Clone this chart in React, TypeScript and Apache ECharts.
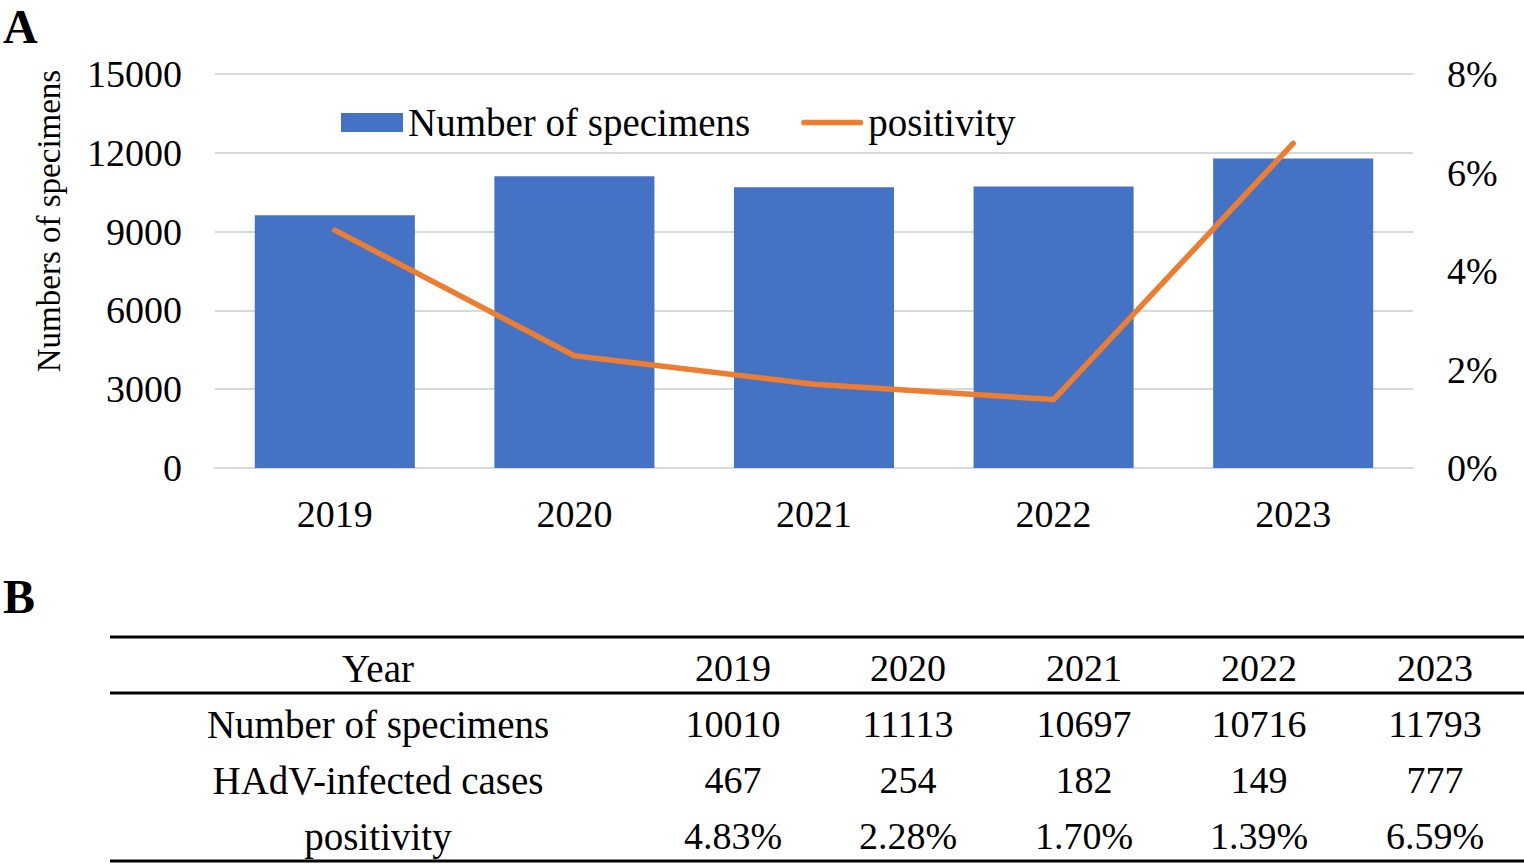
import React, { useEffect, useRef } from "react";
import * as echarts from "echarts";

const years = ["2019", "2020", "2021", "2022", "2023"];
const specimenBars = [9620, 11110, 10690, 10720, 11785];
const positivity = [4.83, 2.28, 1.7, 1.39, 6.59];
const leftTicks = { min: 0, max: 15000, interval: 3000 };
const rightTicks = { min: 0, max: 8, interval: 2 };

const tableHeader = "Year";
const rowLabels = ["Number of specimens", "HAdV-infected cases", "positivity"];
const tableSpecimens = ["10010", "11113", "10697", "10716", "11793"];
const tableCases = ["467", "254", "182", "149", "777"];
const tablePositivity = ["4.83%", "2.28%", "1.70%", "1.39%", "6.59%"];

const FONT = "'Liberation Serif', 'Times New Roman', serif";

export default function App() {
  const ref = useRef<HTMLDivElement>(null);
  useEffect(() => {
    document.body.style.margin = "0";
    const chart = echarts.init(ref.current!, null, { renderer: "svg" });

    const colX = [733, 908, 1084, 1259, 1435];
    const firstColX = 378;
    const rowY = [668, 724, 780, 836];
    const tableRows = [years, tableSpecimens, tableCases, tablePositivity];
    const tableTexts: any[] = [];
    const labels = [tableHeader, ...rowLabels];
    labels.forEach((t, i) => {
      tableTexts.push({
        type: "text",
        x: firstColX,
        y: rowY[i],
        style: { text: t, font: `39px ${FONT}`, fill: "#000", align: "center", verticalAlign: "middle" },
      });
    });
    tableRows.forEach((row, i) => {
      row.forEach((t, j) => {
        tableTexts.push({
          type: "text",
          x: colX[j],
          y: rowY[i],
          style: { text: t, font: `38px ${FONT}`, fill: "#000", align: "center", verticalAlign: "middle" },
        });
      });
    });
    const hLine = (y: number) => ({
      type: "line",
      shape: { x1: 110, y1: y, x2: 1524, y2: y },
      style: { stroke: "#000", lineWidth: 3 },
    });

    chart.setOption({
      animation: false,
      textStyle: { fontFamily: FONT, color: "#000" },
      grid: { left: 215, right: 111, top: 74, bottom: 396, containLabel: false },
      legend: {
        left: 341,
        top: 103,
        padding: 0,
        itemWidth: 62,
        itemHeight: 19,
        itemGap: 51,
        symbolKeepAspect: true,
        textStyle: { fontFamily: FONT, fontSize: 39, color: "#000" },
        data: [
          { name: "Number of specimens", icon: "rect" },
          { name: "positivity", icon: "path://M3,0 L62,0 A3,3 0 0 1 62,6 L3,6 A3,3 0 0 1 3,0 Z" },
        ],
      },
      xAxis: {
        type: "category",
        data: years,
        axisLine: { lineStyle: { color: "#D9D9D9", width: 2 } },
        axisTick: { show: false },
        axisLabel: { fontFamily: FONT, fontSize: 38, color: "#000", margin: 27 },
      },
      yAxis: [
        {
          type: "value",
          min: leftTicks.min,
          max: leftTicks.max,
          interval: leftTicks.interval,
          axisLine: { show: false },
          axisTick: { show: false },
          splitLine: { lineStyle: { color: "#D9D9D9", width: 2 } },
          axisLabel: {
            fontFamily: FONT,
            fontSize: 38,
            color: "#000",
            margin: 33,
            formatter: (v: number) => String(v),
          },
        },
        {
          type: "value",
          min: rightTicks.min,
          max: rightTicks.max,
          interval: rightTicks.interval,
          axisLine: { show: false },
          axisTick: { show: false },
          splitLine: { show: false },
          axisLabel: { fontFamily: FONT, fontSize: 38, color: "#000", margin: 34, formatter: "{value}%" },
        },
      ],
      series: [
        {
          name: "Number of specimens",
          type: "bar",
          data: specimenBars,
          barCategoryGap: "33.2%",
          itemStyle: { color: "#4472C4" },
        },
        {
          name: "positivity",
          type: "line",
          yAxisIndex: 1,
          data: positivity,
          symbol: "none",
          showSymbol: false,
          lineStyle: { color: "#ED7D31", width: 5.5, cap: "round", join: "round" },
          itemStyle: { color: "#ED7D31" },
        },
      ],
      graphic: [
        {
          type: "text",
          x: 3,
          y: 26,
          style: {
            text: "A",
            font: `bold 48px ${FONT}`,
            fill: "#000",
            align: "left",
            verticalAlign: "middle",
          },
        },
        {
          type: "text",
          x: 3,
          y: 596,
          style: {
            text: "B",
            font: `bold 48px ${FONT}`,
            fill: "#000",
            align: "left",
            verticalAlign: "middle",
          },
        },
        {
          type: "text",
          x: 49,
          y: 221,
          rotation: Math.PI / 2,
          style: { text: "Numbers of specimens", font: `33px ${FONT}`, fill: "#000", align: "center", verticalAlign: "middle" },
        },
        hLine(637),
        hLine(693),
        hLine(861),
        ...tableTexts,
      ],
    });
    return () => chart.dispose();
  }, []);
  return <div ref={ref} style={{ position: "absolute", left: 0, top: 0, width: 1524, height: 864 }} />;
}
